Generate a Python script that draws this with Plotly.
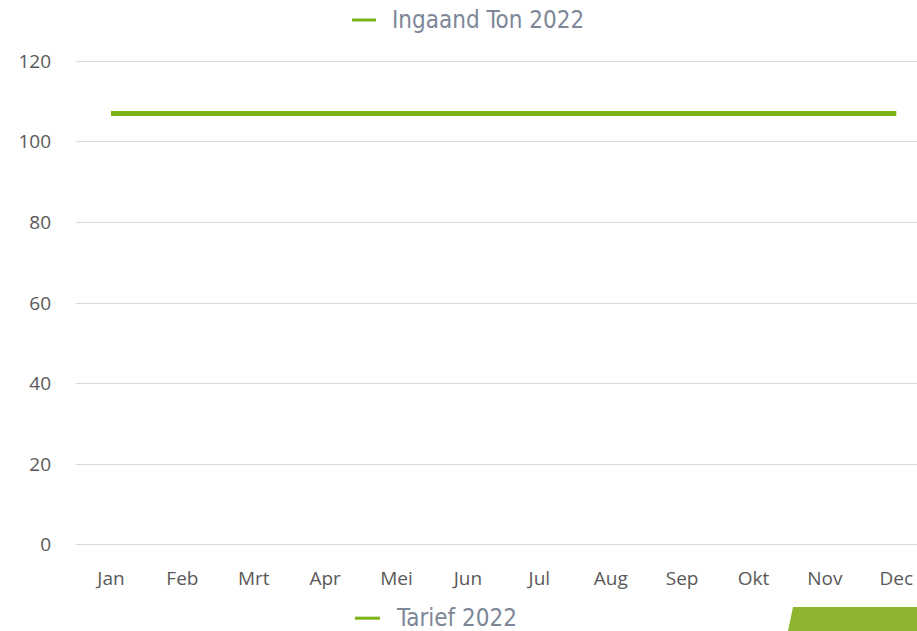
import plotly.graph_objects as go

months = ["Jan", "Feb", "Mrt", "Apr", "Mei", "Jun", "Jul", "Aug", "Sep", "Okt", "Nov", "Dec"]
ingaand_ton_2022 = [107, 107, 107, 107, 107, 107, 107, 107, 107, 107, 107, 107]
series_top = "Ingaand Ton 2022"
series_bottom = "Tarief 2022"
y_ticks = [0, 20, 40, 60, 80, 100, 120]

green = "#7ab317"
legend_font = dict(family="Liberation Sans Narrow, DejaVu Sans Condensed, sans-serif", size=24, color="#7d8797")
tick_font = dict(family="Open Sans, Noto Sans, sans-serif", size=19, color="#595959")

fig = go.Figure()
fig.add_trace(go.Scatter(
    x=months, y=ingaand_ton_2022, mode="lines", name=series_top,
    line=dict(color=green, width=5, shape="linear"),
    showlegend=False,
))

# legend-like entries (top for the visible series, bottom for the second chart's series)
legend_items = [
    dict(name=series_top, x0=0.3282, x1=0.3567, y=1.0823, tx=0.3745),
    dict(name=series_bottom, x0=0.3317, x1=0.3615, y=-0.1485, tx=0.3790),
]
shapes = []
annotations = []
for it in legend_items:
    shapes.append(dict(type="line", xref="paper", yref="paper", x0=it["x0"], x1=it["x1"],
                       y0=it["y"], y1=it["y"], line=dict(color=green, width=3)))
    annotations.append(dict(text=it["name"], xref="paper", yref="paper", x=it["tx"], y=it["y"],
                            xanchor="left", yanchor="middle", showarrow=False, font=legend_font,
                            borderpad=0))

shapes.append(dict(
    type="path", xref="paper", yref="paper",
    path="M 0.8466 -0.1749 L 0.8526 -0.1255 L 1.0 -0.1255 L 1.0 -0.2 Z",
    fillcolor="#8db52f", line=dict(width=0), layer="above",
))

fig.update_layout(
    width=917, height=631,
    margin=dict(l=76, r=0, t=60, b=85, autoexpand=False),
    paper_bgcolor="white", plot_bgcolor="white",
    showlegend=False,
    xaxis=dict(
        type="category", categoryorder="array", categoryarray=months,
        range=[-0.49, 11.29], showgrid=False, zeroline=False, showline=False,
        ticks="", tickfont=tick_font, ticklabelstandoff=19,
    ),
    yaxis=dict(
        range=[-0.3, 120.3], tickvals=y_ticks, showgrid=True, gridcolor="#d9d9d9", gridwidth=1,
        zeroline=False, showline=False, ticks="", tickfont=tick_font, ticklabelstandoff=24,
    ),
    shapes=shapes,
    annotations=annotations,
)

fig.write_html("out.html", config={"displayModeBar": False},
               post_script="document.body.style.margin='0';document.body.style.overflow='hidden';")
